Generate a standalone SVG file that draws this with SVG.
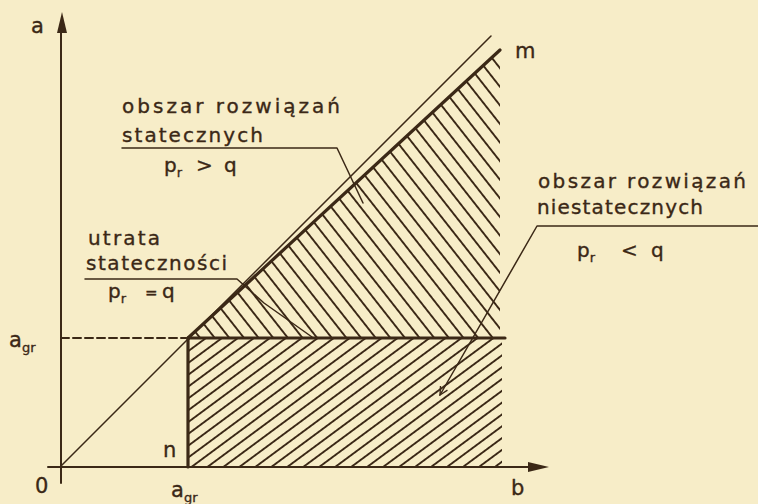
<svg xmlns="http://www.w3.org/2000/svg" width="758" height="504" viewBox="0 0 758 504">
  <style>
    .ink { stroke: #3b2816; fill: none; stroke-linecap: round; stroke-linejoin: round; }
    .thick { stroke-width: 3.2; }
    .mid { stroke-width: 2; }
    .thin { stroke-width: 1.5; }
    .lbl { font-family: "DejaVu Sans", "Liberation Sans", sans-serif; fill: #3b2816; stroke: #3b2816; stroke-width: 0.35; font-size: 20px; }
    .ax { font-family: "DejaVu Sans", "Liberation Sans", sans-serif; fill: #3b2816; stroke: #3b2816; stroke-width: 0.35; font-size: 21px; }
    .sub { font-size: 13px; }
  </style>
  <defs>
    <pattern id="hatchLow" width="30" height="9.5" patternUnits="userSpaceOnUse" patternTransform="rotate(-36.5)">
      <line x1="-2" y1="4.75" x2="32" y2="4.75" stroke="#3b2816" stroke-width="1.8"/>
    </pattern>
    <pattern id="hatchUp" width="30" height="11.5" patternUnits="userSpaceOnUse" patternTransform="rotate(51.8)">
      <line x1="-2" y1="5.75" x2="32" y2="5.75" stroke="#3b2816" stroke-width="1.8"/>
    </pattern>
    <marker id="arr" markerWidth="10" markerHeight="10" refX="9" refY="5" orient="auto" markerUnits="userSpaceOnUse">
      <path d="M1,1 L9,5 L1,9" fill="none" stroke="#3b2816" stroke-width="1.4"/>
    </marker>
  </defs>

  <rect x="0" y="0" width="758" height="504" fill="#f7edc8"/>

  <g id="regions">
    <polygon id="region-stable" points="188,338 500,50 500,338" fill="url(#hatchUp)"/>
    <polygon id="region-unstable" points="188,338 502,338 502,466 188,466" fill="url(#hatchLow)"/>
  </g>

  <g id="axes">
    <line class="ink mid" x1="61" y1="483" x2="61" y2="28"/>
    <polygon points="62,12 57,33 67,33" fill="#3b2816"/>
    <line class="ink mid" x1="48" y1="467" x2="532" y2="467"/>
    <polygon points="549,467 528,462 528,472" fill="#3b2816"/>
  </g>

  <g id="lines">
    <line id="diag" class="ink thin" x1="61" y1="466" x2="491" y2="36"/>
    <line id="line-m" class="ink thick" x1="188" y1="338" x2="500" y2="50"/>
    <line id="line-agr" class="ink thick" x1="188" y1="338" x2="505" y2="338"/>
    <line id="line-n" class="ink thick" x1="188" y1="338" x2="188" y2="467"/>
    <line id="dash-agr" class="ink mid" x1="61" y1="338" x2="186" y2="338" stroke-dasharray="8 4" stroke-linecap="butt"/>
  </g>

  <g id="connectors">
    <polyline class="ink thin" points="122,148 337,148 363,203"/>
    <polyline class="ink thin" points="758,226 537,226 440,395" marker-end="url(#arr)"/>
    <polyline class="ink thin" points="85,279 237,279 264,303 312,337"/>
  </g>

  <g id="label-stable">
    <text class="lbl" x="122" y="113" textLength="218" lengthAdjust="spacing">obszar rozwiązań</text>
    <text class="lbl" x="122" y="142" textLength="141" lengthAdjust="spacing">statecznych</text>
    <text class="lbl" x="164" y="172">p<tspan class="sub" dy="5">r</tspan><tspan x="196" dy="-5">&gt;</tspan><tspan x="224">q</tspan></text>
  </g>

  <g id="label-unstable">
    <text class="lbl" x="538" y="188" textLength="208" lengthAdjust="spacing">obszar rozwiązań</text>
    <text class="lbl" x="537" y="214" textLength="166" lengthAdjust="spacing">niestatecznych</text>
    <text class="lbl" x="577" y="257">p<tspan class="sub" dy="5">r</tspan><tspan x="621" dy="-5">&lt;</tspan><tspan x="651">q</tspan></text>
  </g>

  <g id="label-loss">
    <text class="lbl" x="88" y="245" textLength="72" lengthAdjust="spacing">utrata</text>
    <text class="lbl" x="86" y="270" textLength="141" lengthAdjust="spacing">stateczności</text>
    <text class="lbl" x="108" y="298">p<tspan class="sub" dy="5">r</tspan><tspan x="145" dy="-5" font-size="15">=</tspan><tspan x="162">q</tspan></text>
  </g>

  <g id="axis-labels">
    <text class="ax" x="31" y="33">a</text>
    <text class="ax" x="9" y="347">a<tspan class="sub" font-size="14" dy="5">gr</tspan></text>
    <text class="ax" x="171" y="497">a<tspan class="sub" font-size="14" dy="5">gr</tspan></text>
    <text class="ax" x="35" y="493" font-size="24">0</text>
    <text class="ax" x="163" y="457">n</text>
    <text class="ax" x="511" y="495">b</text>
    <text class="ax" x="515" y="58">m</text>
  </g>
</svg>
